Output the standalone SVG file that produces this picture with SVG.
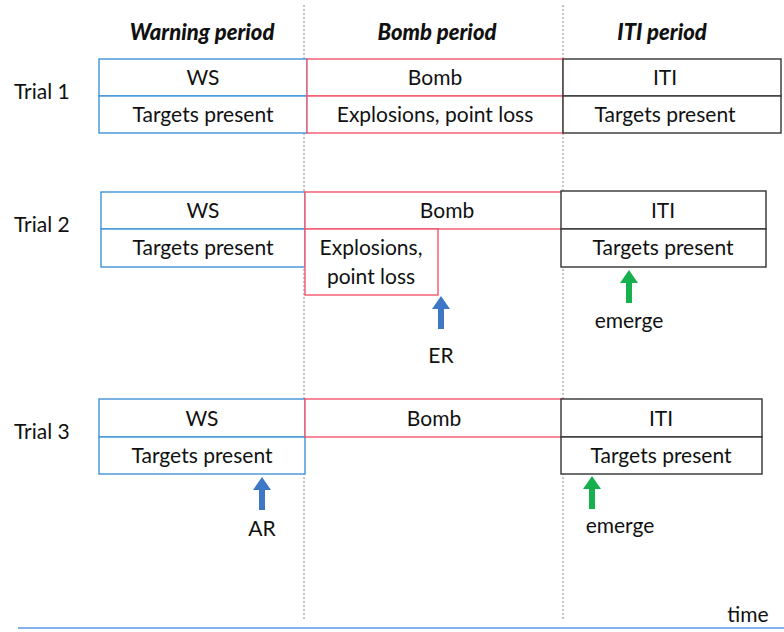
<svg xmlns="http://www.w3.org/2000/svg" width="784" height="632" viewBox="0 0 784 632">
<style>
text{font-family:Lato,"Liberation Sans",sans-serif;font-size:21px;fill:#111;text-anchor:middle}
.h{font-weight:900;font-style:italic;font-size:22px}
.l{text-anchor:start}
.b{fill:#fff;stroke:#3f93d8;stroke-width:1.4}
.r{fill:#fff;stroke:#f2566b;stroke-width:1.4}
.k{fill:#fff;stroke:#333;stroke-width:1.4}
.d{stroke:#888;stroke-width:1;stroke-dasharray:2 2}
</style>
<defs>
<path id="ab" d="M0 0 L-9 13 L-3 13 L-3 33 L3 33 L3 13 L9 13 Z" fill="#3d77c6"/>
<path id="ag" d="M0 0 L-9 13 L-3 13 L-3 33 L3 33 L3 13 L9 13 Z" fill="#17b04e"/>
</defs>
<g id="grid">
<line class="d" x1="304" y1="5" x2="304" y2="620"/>
<line class="d" x1="563" y1="5" x2="563" y2="620"/>
<line x1="18" y1="628" x2="784" y2="628" stroke="#5b9ae6" stroke-width="1.5"/>
</g>
<g id="headers">
<text class="h" x="202" y="40">Warning period</text>
<text class="h" x="437" y="40">Bomb period</text>
<text class="h" x="662" y="40">ITI period</text>
<text x="748" y="622">time</text>
</g>
<g id="trial1">
<text class="l" x="14" y="99">Trial 1</text>
<rect class="b" x="99" y="59" width="208" height="37"/>
<rect class="b" x="99" y="96" width="208" height="37"/>
<text x="203" y="85">WS</text>
<text x="203" y="122">Targets present</text>
<rect class="r" x="307" y="59" width="256" height="37"/>
<rect class="r" x="307" y="96" width="256" height="37"/>
<text x="435" y="85">Bomb</text>
<text x="435" y="122">Explosions, point loss</text>
<rect class="k" x="563" y="59" width="218" height="37"/>
<rect class="k" x="563" y="96" width="218" height="37"/>
<text x="665" y="85">ITI</text>
<text x="665" y="122">Targets present</text>
</g>
<g id="trial2">
<text class="l" x="14" y="232">Trial 2</text>
<rect class="b" x="101" y="192" width="204" height="37"/>
<rect class="b" x="101" y="229" width="204" height="38"/>
<text x="203" y="218">WS</text>
<text x="203" y="255">Targets present</text>
<rect class="r" x="305" y="192" width="258" height="37"/>
<rect class="r" x="305" y="229" width="133" height="66"/>
<text x="447" y="218">Bomb</text>
<text x="371" y="255">Explosions,</text>
<text x="371" y="284">point loss</text>
<rect class="k" x="561" y="191" width="205" height="38"/>
<rect class="k" x="561" y="229" width="205" height="38"/>
<text x="663" y="218">ITI</text>
<text x="663" y="255">Targets present</text>
<use href="#ab" x="441" y="296"/>
<text x="441" y="363">ER</text>
<use href="#ag" x="629" y="270"/>
<text x="629" y="328">emerge</text>
</g>
<g id="trial3">
<text class="l" x="14" y="439">Trial 3</text>
<rect class="b" x="99" y="399" width="206" height="38"/>
<rect class="b" x="99" y="437" width="206" height="37"/>
<text x="202" y="426">WS</text>
<text x="202" y="463">Targets present</text>
<rect class="r" x="305" y="399" width="258" height="38"/>
<text x="434" y="426">Bomb</text>
<rect class="k" x="561" y="399" width="201" height="38"/>
<rect class="k" x="561" y="437" width="201" height="37"/>
<text x="661" y="426">ITI</text>
<text x="661" y="463">Targets present</text>
<use href="#ab" x="262" y="477"/>
<text x="262" y="536">AR</text>
<use href="#ag" x="592" y="476"/>
<text x="620" y="533">emerge</text>
</g>
</svg>
